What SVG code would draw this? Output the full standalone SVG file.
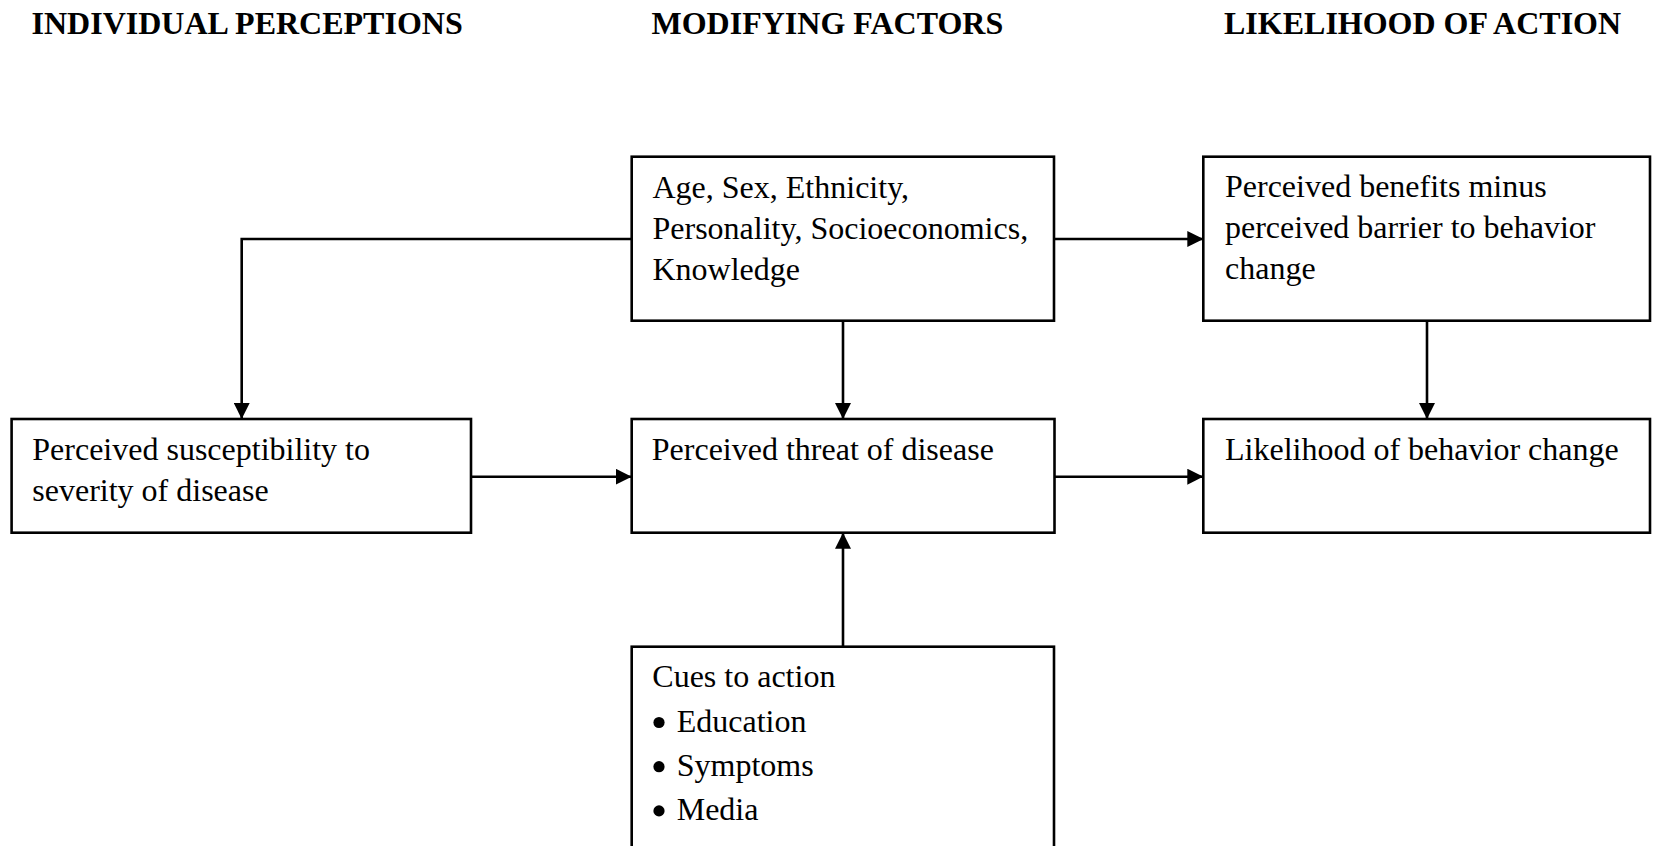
<svg xmlns="http://www.w3.org/2000/svg" width="1659" height="846" viewBox="0 0 1659 846">
  <style>
    .head { font-family: "Liberation Serif", "Times New Roman", serif; font-size: 32px; font-weight: bold; fill: #000; }
    .label { font-family: "Liberation Serif", "Times New Roman", serif; font-size: 32px; fill: #000; }
    .box { fill: #fff; stroke: #000; stroke-width: 2.6; }
    .wire { fill: none; stroke: #000; stroke-width: 2.6; }
    .dot { fill: #000; }
  </style>
  <defs>
    <marker id="arrow" viewBox="0 0 16 16" refX="16" refY="8" markerWidth="16" markerHeight="16" markerUnits="userSpaceOnUse" orient="auto">
      <path d="M0,0 L16,8 L0,16 Z" fill="#000"/>
    </marker>
  </defs>
  <rect width="1659" height="846" fill="#fff"/>

  <!-- column headings -->
  <g id="headings">
    <text class="head" x="31.5" y="34">INDIVIDUAL PERCEPTIONS</text>
    <text class="head" x="651.5" y="34">MODIFYING FACTORS</text>
    <text class="head" x="1224" y="34">LIKELIHOOD OF ACTION</text>
  </g>

  <!-- connectors -->
  <g id="connectors">
    <path class="wire" d="M631.7,239 H241.7 V419" marker-end="url(#arrow)"/>
    <path class="wire" d="M1054,239 H1203.3" marker-end="url(#arrow)"/>
    <path class="wire" d="M843,320.7 V419" marker-end="url(#arrow)"/>
    <path class="wire" d="M1427,320.7 V419" marker-end="url(#arrow)"/>
    <path class="wire" d="M471,476.7 H631.7" marker-end="url(#arrow)"/>
    <path class="wire" d="M1054.5,476.7 H1203.3" marker-end="url(#arrow)"/>
    <path class="wire" d="M843,646.7 V532.7" marker-end="url(#arrow)"/>
  </g>

  <g id="modifying-factors">
    <rect class="box" x="631.7" y="156.7" width="422.3" height="164"/>
    <text class="label" x="652.5" y="197.5">Age, Sex, Ethnicity,</text>
    <text class="label" x="652.5" y="238.7">Personality, Socioeconomics,</text>
    <text class="label" x="652.5" y="279.9">Knowledge</text>
  </g>

  <g id="benefits-barriers">
    <rect class="box" x="1203.3" y="156.7" width="446.7" height="164"/>
    <text class="label" x="1225" y="197">Perceived benefits minus</text>
    <text class="label" x="1225" y="238.2">perceived barrier to behavior</text>
    <text class="label" x="1225" y="279.4">change</text>
  </g>

  <g id="susceptibility">
    <rect class="box" x="11.6" y="419" width="459.4" height="113.7"/>
    <text class="label" x="32.3" y="459.5">Perceived susceptibility to</text>
    <text class="label" x="32.3" y="500.7">severity of disease</text>
  </g>

  <g id="threat">
    <rect class="box" x="631.7" y="419" width="422.8" height="113.7"/>
    <text class="label" x="651.8" y="459.5">Perceived threat of disease</text>
  </g>

  <g id="likelihood">
    <rect class="box" x="1203.3" y="419" width="446.7" height="113.7"/>
    <text class="label" x="1225" y="459.5">Likelihood of behavior change</text>
  </g>

  <g id="cues">
    <rect class="box" x="631.7" y="646.7" width="422.3" height="220"/>
    <text class="label" x="652.3" y="686.7">Cues to action</text>
    <!-- list bullets -->
    <circle class="dot" cx="659" cy="722.5" r="5.6"/>
    <circle class="dot" cx="659" cy="766.7" r="5.6"/>
    <circle class="dot" cx="659" cy="810.9" r="5.6"/>
    <text class="label" x="676.7" y="731.5">Education</text>
    <text class="label" x="676.7" y="775.7">Symptoms</text>
    <text class="label" x="676.7" y="819.9">Media</text>
  </g>
</svg>
